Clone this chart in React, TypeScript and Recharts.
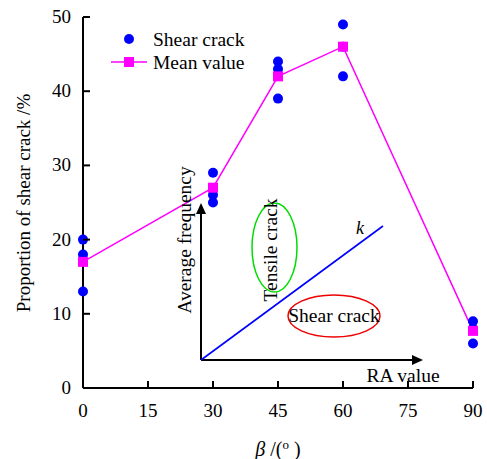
import {
  ComposedChart,
  Scatter,
  Line,
  XAxis,
  YAxis,
} from 'recharts'

const angles = [0, 30, 45, 60, 90]
const shearValues = [
  [20, 18, 13],
  [29, 26, 25],
  [44, 43, 39],
  [49, 46, 42],
  [9, 8, 6],
]
const meanValues = [17, 27, 42, 46, 7.7]
const xTicks = [0, 15, 30, 45, 60, 75, 90]
const yTicks = [0, 10, 20, 30, 40, 50]

const shearData = angles.flatMap((x, i) => shearValues[i].map((y) => ({ x, y })))
const meanData = angles.map((x, i) => ({ x, mean: meanValues[i] }))

const FONT = '"Liberation Serif", "Times New Roman", serif'
const MAGENTA = '#ff00ff'
const BLUE = '#0000ff'

function XTick(props: any) {
  const { x, y, payload } = props
  return (
    <g>
      <line x1={x} y1={y} x2={x} y2={y - 7} stroke="#000" strokeWidth={2} />
      <text x={x} y={y + 29} textAnchor="middle" fontSize={19} fontFamily={FONT} fill="#000">
        {payload.value}
      </text>
    </g>
  )
}

function YTick(props: any) {
  const { x, y, payload } = props
  return (
    <g>
      <line x1={x} y1={y} x2={x + 7} y2={y} stroke="#000" strokeWidth={2} />
      <text x={x - 12} y={y + 6} textAnchor="end" fontSize={19} fontFamily={FONT} fill="#000">
        {payload.value}
      </text>
    </g>
  )
}

function SquareDot(props: any) {
  const { cx, cy } = props
  if (cx == null || cy == null) return null
  return <rect x={cx - 5} y={cy - 5} width={10} height={10} fill={MAGENTA} />
}

// legend + the schematic RA / average-frequency sketch drawn over the plot
function Overlay() {
  return (
    <svg
      width={487}
      height={459}
      style={{ position: 'absolute', left: 0, top: 0, pointerEvents: 'none' }}
      fontFamily={FONT}
    >
      <circle cx={129} cy={39} r={5} fill={BLUE} />
      <text x={153} y={46} fontSize={19.5} fill="#000">Shear crack</text>
      <line x1={111} y1={62} x2={147} y2={62} stroke={MAGENTA} strokeWidth={1.5} />
      <rect x={124} y={57} width={10} height={10} fill={MAGENTA} />
      <text x={153} y={69} fontSize={19.5} fill="#000">Mean value</text>

      <line x1={201} y1={360} x2={201} y2={212} stroke="#000" strokeWidth={2} />
      <polygon points="201,203 196,214 206,214" fill="#000" />
      <line x1={201} y1={360} x2={413} y2={360} stroke="#000" strokeWidth={2} />
      <polygon points="423,360 412,355 412,365" fill="#000" />
      <line x1={201} y1={360} x2={383} y2={226} stroke={BLUE} strokeWidth={1.6} />
      <text x={356} y={234} fontSize={18} fontStyle="italic" fill="#000">k</text>
      <ellipse cx={274.5} cy={247.5} rx={22.5} ry={44.5} fill="none" stroke="#00dd00" strokeWidth={1.5} />
      <text x={0} y={0} transform="translate(277,250) rotate(-90)" textAnchor="middle" fontSize={19.5} fill="#000">
        Tensile crack
      </text>
      <ellipse cx={334} cy={316} rx={46} ry={21} fill="none" stroke="#ee0000" strokeWidth={1.5} />
      <text x={334} y={322} textAnchor="middle" fontSize={19.5} fill="#000">Shear crack</text>
      <text x={0} y={0} transform="translate(191,240) rotate(-90)" textAnchor="middle" fontSize={19.5} fill="#000">
        Average frequency
      </text>
      <text x={403} y={382} textAnchor="middle" fontSize={19.5} fill="#000">RA value</text>
    </svg>
  )
}

export default function App() {
  return (
    <div style={{ position: 'absolute', left: 0, top: 0, width: 487, height: 459, background: '#fff' }}>
      <ComposedChart
        width={487}
        height={459}
        margin={{ top: 17, right: 14, left: 0, bottom: 0 }}
      >
        <XAxis
          dataKey="x"
          type="number"
          domain={[0, 90]}
          ticks={xTicks}
          height={71}
          axisLine={{ stroke: '#000', strokeWidth: 2 }}
          tickLine={false}
          tickSize={0}
          tickMargin={0}
          tick={<XTick />}
          label={({ viewBox }: any) => (
            <text
              x={viewBox.x + viewBox.width / 2}
              y={456}
              textAnchor="middle"
              fontSize={20}
              fontFamily={FONT}
              fill="#000"
            >
              <tspan fontStyle="italic">β</tspan>
              <tspan> /(</tspan>
              <tspan fontSize={13} dy={-7}>o</tspan>
              <tspan dy={7}> )</tspan>
            </text>
          )}
        />
        <YAxis
          type="number"
          domain={[0, 50]}
          ticks={yTicks}
          width={83}
          axisLine={{ stroke: '#000', strokeWidth: 2 }}
          tickLine={false}
          tickSize={0}
          tickMargin={0}
          tick={<YTick />}
          label={() => (
            <text
              x={0}
              y={0}
              transform="translate(30,203) rotate(-90)"
              textAnchor="middle"
              fontSize={19}
              fontFamily={FONT}
              fill="#000"
            >
              Proportion of shear crack /%
            </text>
          )}
        />
        <Scatter
          data={shearData}
          dataKey="y"
          fill={BLUE}
          shape={(p: any) => <circle cx={p.cx} cy={p.cy} r={5} fill={BLUE} />}
          isAnimationActive={false}
        />
        <Line
          data={meanData}
          dataKey="mean"
          stroke={MAGENTA}
          strokeWidth={1.5}
          dot={<SquareDot />}
          activeDot={false}
          isAnimationActive={false}
        />
      </ComposedChart>
      <Overlay />
    </div>
  )
}
